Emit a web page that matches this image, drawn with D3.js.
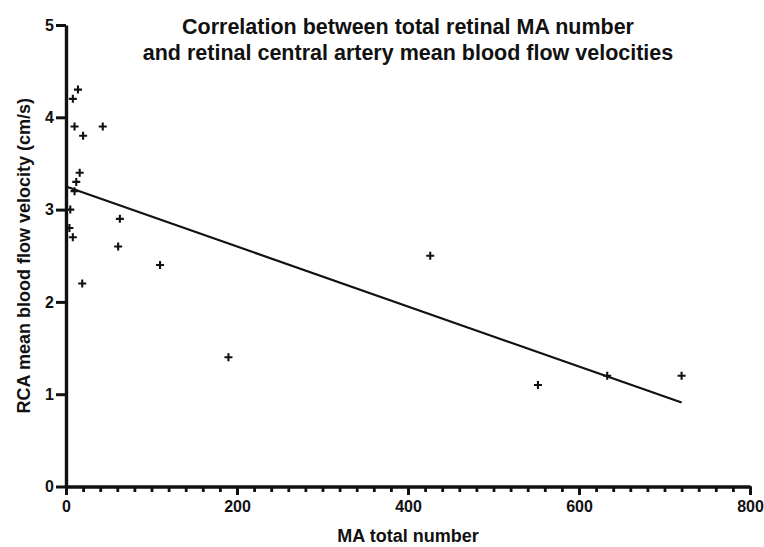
<!DOCTYPE html>
<html>
<head>
<meta charset="utf-8">
<script src="https://cdn.jsdelivr.net/npm/d3@7"></script>
<style>
  html, body { margin: 0; padding: 0; background: #fff; }
  svg { display: block; }
  text { font-family: "Liberation Sans", Arial, Helvetica, sans-serif; font-weight: bold; fill: #111; }
</style>
</head>
<body>
<svg id="chart" width="764" height="547"></svg>
<script>
// ---- data ----
const maTotal = [14, 8, 10, 20, 43, 16, 12, 10, 5, 4, 8, 63, 61, 19, 110, 190, 426, 552, 633, 720];
const rcaVelocity = [4.3, 4.2, 3.9, 3.8, 3.9, 3.4, 3.3, 3.2, 3.0, 2.8, 2.7, 2.9, 2.6, 2.2, 2.4, 1.4, 2.5, 1.1, 1.2, 1.2];
const fitX = [0, 720];
const fitY = [3.25, 0.91];
const xTicks = [0, 200, 400, 600, 800];
const xMinorTicks = d3.range(0, 801, 20);
const yTicks = [0, 1, 2, 3, 4, 5];
const titleLines = ["Correlation between total retinal MA number",
                    "and retinal central artery mean blood flow velocities"];
const xLabel = "MA total number";
const yLabel = "RCA mean blood flow velocity (cm/s)";

const svg = d3.select("#chart");
const x = d3.scaleLinear().domain([0, 800]).range([66, 750]);
const y = d3.scaleLinear().domain([0, 5]).range([486.5, 25]);

// title
svg.append("g").selectAll("text").data(titleLines).join("text")
  .attr("x", 408).attr("y", (d, i) => 33.5 + i * 26)
  .attr("text-anchor", "middle").style("font-size", "21.5px")
  .text(d => d);

// minor x ticks
const gMinor = svg.append("g").attr("transform", `translate(0,${y(0)})`)
  .call(d3.axisBottom(x).tickValues(xMinorTicks).tickSize(5.5).tickSizeOuter(0).tickFormat(""));
gMinor.select(".domain").remove();
gMinor.selectAll("line").attr("stroke", "#111").attr("stroke-width", 2.8);

// major x axis
const gx = svg.append("g").attr("transform", `translate(0,${y(0)})`)
  .call(d3.axisBottom(x).tickValues(xTicks).tickSize(8.5).tickSizeOuter(0).tickPadding(6)
    .tickFormat(d3.format("d")));
gx.select(".domain").attr("stroke", "#111").attr("stroke-width", 3.4);
gx.selectAll(".tick line").attr("stroke", "#111").attr("stroke-width", 3);
gx.selectAll(".tick text").style("font-size", "16px").attr("fill", "#111");

// y axis
const gy = svg.append("g").attr("transform", `translate(${x(0)},0)`)
  .call(d3.axisLeft(y).tickValues(yTicks).tickSize(10).tickSizeOuter(0).tickPadding(2)
    .tickFormat(d3.format("d")));
gy.select(".domain").attr("stroke", "#111").attr("stroke-width", 3.4);
gy.selectAll(".tick line").attr("stroke", "#111").attr("stroke-width", 3);
gy.selectAll(".tick text").style("font-size", "16px").attr("fill", "#111");

// axis labels
svg.append("text").attr("x", 408).attr("y", 542).attr("text-anchor", "middle")
  .style("font-size", "18px").text(xLabel);
svg.append("text").attr("transform", `translate(30,${(y(0) + y(5)) / 2}) rotate(-90)`)
  .attr("text-anchor", "middle").style("font-size", "18px").text(yLabel);

// regression line
const fit = fitX.map((v, i) => [v, fitY[i]]);
svg.append("path").datum(fit)
  .attr("d", d3.line().x(d => x(d[0])).y(d => y(d[1])))
  .attr("fill", "none").attr("stroke", "#111").attr("stroke-width", 2.2);

// points (plus markers)
const pts = maTotal.map((v, i) => [v, rcaVelocity[i]]);
svg.append("g").selectAll("path").data(pts).join("path")
  .attr("transform", d => `translate(${x(d[0])},${y(d[1])})`)
  .attr("d", "M-4,0H4M0,-4V4")
  .attr("fill", "none").attr("stroke", "#111").attr("stroke-width", 2.1);
</script>
</body>
</html>
